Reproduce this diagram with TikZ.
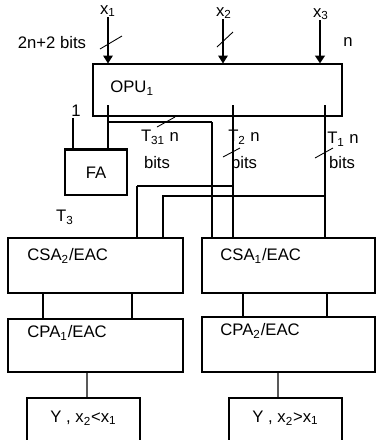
\documentclass[tikz,border=0pt]{standalone}
\usepackage{fontspec}
\setmainfont{Liberation Sans}
\usetikzlibrary{positioning,arrows.meta,calc}

\begin{document}
\begin{tikzpicture}[
    x=0.02cm, y=-0.02cm,
    font=\fontsize{9.5}{11}\selectfont,
    box/.style    ={draw, line width=0.6pt, inner sep=0pt},
    title/.style  ={anchor=west, inner sep=0pt},
    lbl/.style    ={inner sep=0pt},
    wire/.style   ={line width=0.6pt},
    heavy/.style  ={line width=1.2pt},
    arrow/.style  ={-{Triangle[width=5.5pt,length=4.5pt]}, line width=0.6pt},
    busmark/.style={line width=0.5pt}
]
\useasboundingbox (0,0) rectangle (376,440);
\clip (0,0) rectangle (376,440);

% --- top: inputs ---
\node[lbl] (xone) at (108,11) {x\textsubscript{1}};
\node[lbl] (xtwo) at (224,13) {x\textsubscript{2}};
\node[lbl] (xthree) at (321,14) {x\textsubscript{3}};
\node[lbl] (inbits) at (52,43) {2n+2 bits};
\node[lbl] (inn) at (348,42) {n};

% --- OPU ---
\node[box, minimum width=4.98cm, minimum height=1.04cm] (opu) at (217.5,90) {};
\node[title] (opulbl) at (110,88) {OPU\textsubscript{1}};

% --- arrows in ---
\draw[arrow] (xone) -- (xone |- opu.north);
\draw[arrow] (xtwo.south -| 223,0) -- (opu.north -| 223,0);
\draw[arrow, line width=1.2pt] (xthree.south -| 320,0) -- (opu.north -| 320,0);
\draw[busmark] (100,49) -- (122,36);
\draw[busmark] (217,47) -- (233,32);

% --- FA ---
\node[box, minimum width=1.24cm, minimum height=0.9cm] (fa) at (96,172.5) {FA};
\draw[heavy] (fa.north west) -- (fa.north east);
\node[lbl] (carrylbl) at (76,111) {1};
\node[lbl] (tthreelbl) at (65,217) {T\textsubscript{3}};

% --- CSA ---
\node[box, minimum width=3.5cm, minimum height=1.1cm] (csatwo) at (95.5,265.5) {};
\node[title] (csatwolbl) at (27,256) {CSA\textsubscript{2}/EAC};
\node[box, minimum width=3.46cm, minimum height=1.1cm] (csaone) at (288.5,265.5) {};
\node[title] (csaonelbl) at (220,256) {CSA\textsubscript{1}/EAC};

% --- CPA ---
\node[box, minimum width=3.5cm, minimum height=1.06cm] (cpaone) at (95.5,345.5) {};
\node[title] (cpaonelbl) at (27,333) {CPA\textsubscript{1}/EAC};
\node[box, minimum width=3.46cm, minimum height=1.1cm] (cpatwo) at (288.5,344.5) {};
\node[title] (cpatwolbl) at (220,331) {CPA\textsubscript{2}/EAC};

% --- outputs ---
\node[box, minimum width=2.26cm, minimum height=1.04cm] (yleft) at (83.5,424) {};
\node[lbl] (yleftlbl) at (83.5,418) {Y , x\textsubscript{2}<x\textsubscript{1}};
\node[box, minimum width=2.26cm, minimum height=1.04cm] (yright) at (285.5,424) {};
\node[lbl] (yrightlbl) at (285.5,418) {Y , x\textsubscript{2}>x\textsubscript{1}};

% --- T wires out of OPU ---
\coordinate (tthree) at (108,105);
\coordinate (tsplit) at (108,122);
\coordinate (tdrop) at (212,122);
\coordinate (carry) at (73,118);
\coordinate (ttwo) at (233,105);
\coordinate (ttwosplit) at (233,186);
\coordinate (ttwodrop) at (137,186);
\coordinate (tone) at (325,105);
\coordinate (tonesplit) at (325,196);
\coordinate (tonedrop) at (163,196);

\draw[wire] (tthree) -- (tthree |- fa.north);
\draw[wire] (carry) -- (carry |- fa.north);
\draw[heavy] (tsplit) -- (tdrop);
\draw[wire] (tdrop) -- (tdrop |- csaone.north);
\draw[wire] (ttwo) -- (ttwo |- csaone.north);
\draw[heavy] (ttwosplit) -- (ttwodrop);
\draw[wire] (ttwodrop) -- (ttwodrop |- csatwo.north);
\draw[wire] (tone) -- (tone |- csaone.north);
\draw[wire] (tonesplit) -- (tonedrop) -- (tonedrop |- csatwo.north);

\draw[busmark] (157,127) -- (175,117);
\draw[busmark] (223,157) -- (240,148);
\draw[busmark] (315,158) -- (333,148);

\node[lbl] (tthreeonelbl) at (160,137) {T\textsubscript{31} n};
\node[lbl] (ttwolbl) at (244,137) {T\textsubscript{2} n};
\node[lbl] (tonelbl) at (343,139) {T\textsubscript{1} n};
\node[lbl] (bitsa) at (157,163) {bits};
\node[lbl] (bitsb) at (244,163) {bits};
\node[lbl] (bitsc) at (342,163) {bits};

% --- down the stack ---
\draw[wire] ([xshift=-1.05cm]csatwo.south) -- ([xshift=-1.05cm]cpaone.north);
\draw[wire] ([xshift=0.73cm]csatwo.south) -- ([xshift=0.73cm]cpaone.north);
\draw[wire] ([xshift=-0.91cm]csaone.south) -- ([xshift=-0.91cm]cpatwo.north);
\draw[wire] ([xshift=0.77cm]csaone.south) -- ([xshift=0.77cm]cpatwo.north);
\draw[wire] ([xshift=-0.17cm]cpaone.south) -- ([xshift=0.07cm]yleft.north);
\draw[wire] ([xshift=-0.21cm]cpatwo.south) -- ([xshift=-0.15cm]yright.north);

\end{tikzpicture}
\end{document}
